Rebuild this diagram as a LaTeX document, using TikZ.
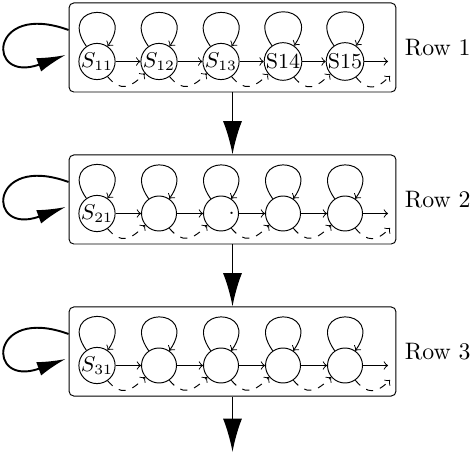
\documentclass[tikz,border=0pt]{standalone}
\usetikzlibrary{arrows.meta}
\begin{document}
\begin{tikzpicture}[x=0.42pt, y=0.42pt, >=to,
    state/.style={circle, draw, inner sep=0pt, minimum size=14.7pt, font=\small},
    rowbox/.style={draw, rounded corners=2pt, minimum width=137.3pt, minimum height=37.4pt},
    bigarrow/.style={thick, -{Latex[length=14pt,width=8pt]}}]
    \useasboundingbox (0,0) rectangle (475,457);
    % Rows
    \foreach \r/\y in {1/409.5, 2/257.5, 3/105.5} {
        \node[rowbox] (row\r) at (232.5,\y) {};
        \node[right] (lab\r) at (row\r.east) {Row \r};
    }
    % States
    \foreach \c/\t in {1/$S_{11}$, 2/$S_{12}$, 3/$S_{13}$, 4/S14, 5/S15}
        \node[state] (s1\c) at ({35+62*\c},395.5) {\t};
    \foreach \c/\t in {1/$S_{21}$, 2/{}, 3/\kern9pt., 4/{}, 5/{}}
        \node[state] (s2\c) at ({35+62*\c},243.5) {\t};
    \foreach \c/\t in {1/$S_{31}$, 2/{}, 3/{}, 4/{}, 5/{}}
        \node[state] (s3\c) at ({35+62*\c},91.5) {\t};
    % Transitions
    \foreach \r in {1,2,3} {
        \foreach \c in {1,...,5}
            \draw[->] (s\r\c.125) .. controls +(125:55) and +(55:55) .. (s\r\c.55);
        \foreach \c [count=\n from 2] in {1,...,4} {
            \draw[->] (s\r\c) -- (s\r\n);
            \draw[->, dashed] (s\r\c.-55) to[out=-50, in=-135, looseness=1.4] (s\r\n.-140);
        }
        \coordinate (out\r) at (388,{395.5-152*(\r-1)});
        \coordinate (dout\r) at (390,{381-152*(\r-1)});
        \draw[->] (s\r5) -- (out\r);
        \draw[->, dashed] (s\r5.-55) to[out=-50, in=-135, looseness=1.4] (dout\r);
        % Row loop
        \draw[thick, -{Latex[length=12pt,width=6pt]}] ([shift={(0,17.5)}]row\r.west)
            .. controls +(160:85) and +(200:85) .. ([shift={(-3,-7.5)}]row\r.west);
    }
    % Between rows
    \coordinate (bottom) at (232.5,5);
    \draw[bigarrow] (row1) -- (row2);
    \draw[bigarrow] (row2) -- (row3);
    \draw[bigarrow] (row3) -- (bottom);
\end{tikzpicture}
\end{document}
